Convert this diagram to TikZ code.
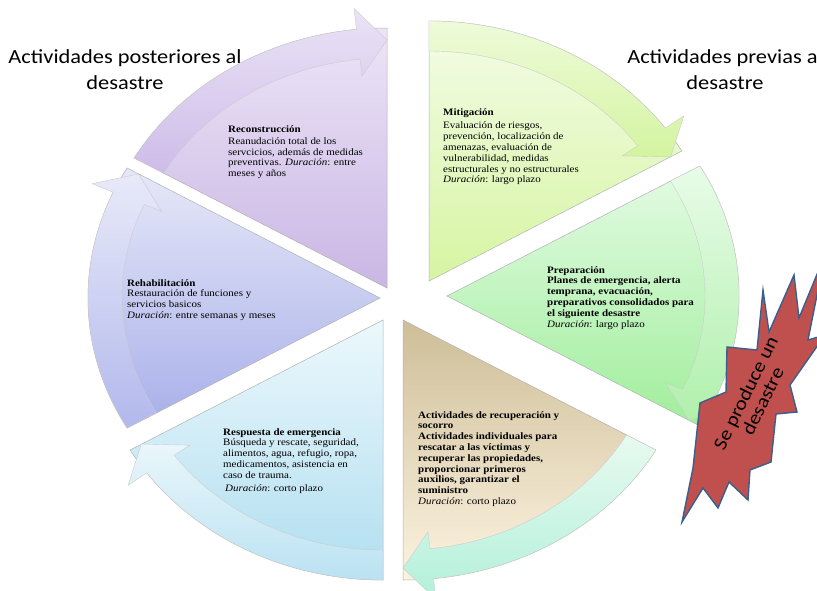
\documentclass[tikz,border=0pt]{standalone}
\usepackage{fontspec}
\setmainfont[FakeStretch=1.12]{Liberation Serif}
\newfontfamily\calib[FakeStretch=1.12]{Carlito}
\usetikzlibrary{calc}
\definecolor{mitT}{RGB}{244,252,232}
\definecolor{mitB}{RGB}{214,245,162}
\definecolor{mitbT}{RGB}{238,251,218}
\definecolor{mitbB}{RGB}{212,244,160}
\definecolor{preT}{RGB}{228,251,228}
\definecolor{preB}{RGB}{160,238,156}
\definecolor{prebT}{RGB}{232,252,232}
\definecolor{prebB}{RGB}{176,240,172}
\definecolor{recT}{RGB}{206,190,152}
\definecolor{recB}{RGB}{252,243,224}
\definecolor{recbT}{RGB}{232,250,240}
\definecolor{recbB}{RGB}{178,240,218}
\definecolor{resT}{RGB}{236,248,252}
\definecolor{resB}{RGB}{176,222,240}
\definecolor{resbT}{RGB}{234,246,251}
\definecolor{resbB}{RGB}{186,226,242}
\definecolor{rehT}{RGB}{230,232,248}
\definecolor{rehB}{RGB}{168,175,233}
\definecolor{rehbT}{RGB}{232,234,249}
\definecolor{rehbB}{RGB}{178,184,236}
\definecolor{conT}{RGB}{236,229,247}
\definecolor{conB}{RGB}{202,182,228}
\definecolor{conbT}{RGB}{234,227,246}
\definecolor{conbB}{RGB}{206,188,232}
\definecolor{burstfill}{RGB}{192,80,77}
\definecolor{burstline}{RGB}{58,95,143}
\tikzset{
  wedgeline/.style={draw=black!30, line width=0.5pt},
  bandline/.style={draw=black!20, line width=0.4pt},
  bodytext/.style={anchor=north west, align=left, inner sep=0pt, font=\fontsize{9.8}{10.8}\selectfont},
  titletext/.style={align=center, inner sep=0pt, font=\calib\fontsize{20}{26}\selectfont},
}
\newcommand{\wedgeseg}[5]{%
  \path[wedgeline, top color=#4, bottom color=#5] (#1) -- ++(#2:292pt and 260pt)
    arc[start angle=#2, end angle=#3, x radius=292pt, y radius=260pt] -- cycle;}
\newcommand{\bandseg}[5]{%
  \pgfmathsetmacro\ab{#3+6}
  \path[bandline, top color=#4, bottom color=#5]
    ($(#1)+(#2:292pt and 260pt)$)
    arc[start angle=#2, end angle=\ab, x radius=292pt, y radius=260pt]
    -- ($(#1)+(\ab:315pt and 281pt)$)
    -- ($(#1)+(#3:279pt and 248pt)$)
    -- ($(#1)+(\ab:239pt and 213pt)$)
    -- ($(#1)+(\ab:258pt and 230pt)$)
    arc[start angle=\ab, end angle=#2, x radius=258pt, y radius=230pt] -- cycle;}
\begin{document}
\begin{tikzpicture}[x=1pt,y=1pt]
\useasboundingbox (0,0) rectangle (817,-591);
\clip (0,0) rectangle (817,-591);
\fill[white] (0,0) rectangle (817,-591);
% apexes
\coordinate (pMit) at (429,-281);
\coordinate (pPre) at (447,-296);
\coordinate (pRec) at (403,-320);
\coordinate (pRes) at (383,-320);
\coordinate (pReh) at (380,-298);
\coordinate (pCon) at (387,-288);
% wedges
\wedgeseg{pMit}{90}{30}{mitT}{mitB}
\wedgeseg{pPre}{30}{-30}{preT}{preB}
\wedgeseg{pRec}{-30}{-90}{recT}{recB}
\wedgeseg{pRes}{-90}{-150}{resT}{resB}
\wedgeseg{pReh}{210}{150}{rehT}{rehB}
\wedgeseg{pCon}{150}{90}{conT}{conB}
% arrow bands
\bandseg{pMit}{90}{30}{mitbT}{mitbB}
\bandseg{pPre}{30}{-30}{prebT}{prebB}
\bandseg{pRec}{-30}{-90}{recbT}{recbB}
\bandseg{pRes}{-90}{-150}{resbT}{resbB}
\bandseg{pReh}{210}{150}{rehbT}{rehbB}
\bandseg{pCon}{150}{90}{conbT}{conbB}
% texts
\node[bodytext] (tCon) at (228,-125) {\textbf{Reconstrucción}\\[1.5pt]
Reanudación total de los\\
servcicios, además de medidas\\
preventivas. \textit{Duración}: entre\\
meses y años};
\node[bodytext] (tMit) at (443,-108) {\textbf{Mitigación}\\[3pt]
Evaluación de riesgos,\\
prevención, localización de\\
amenazas, evaluación de\\
vulnerabilidad, medidas\\
estructurales y no estructurales\\
\textit{Duración}: largo plazo};
\node[bodytext] (tPre) at (547,-266) {\textbf{Preparación}\\
\textbf{Planes de emergencia, alerta}\\
\textbf{temprana, evacuación,}\\
\textbf{preparativos consolidados para}\\
\textbf{el siguiente desastre}\\
\textit{Duración}: largo plazo};
\node[bodytext] (tRec) at (418,-411) {\textbf{Actividades de recuperación y}\\
\textbf{socorro}\\
\textbf{Actividades individuales para}\\
\textbf{rescatar a las víctimas y}\\
\textbf{recuperar las propiedades,}\\
\textbf{proporcionar primeros}\\
\textbf{auxilios, garantizar el}\\
\textbf{suministro}\\
\textit{Duración}: corto plazo};
\node[bodytext] (tRes) at (223,-428) {\textbf{Respuesta de emergencia}\\
Búsqueda y rescate, seguridad,\\
alimentos, agua, refugio, ropa,\\
medicamentos, asistencia en\\
caso de trauma.\\[2pt]
\hspace{2pt}\textit{Duración}: corto plazo};
\node[bodytext] (tReh) at (127,-279) {\textbf{Rehabilitación}\\
Restauración de funciones y\\
servicios basicos\\
\textit{Duración}: entre semanas y meses};
% side titles
\node[titletext] (post) at (125,-70) {Actividades posteriores al\\desastre};
\node[titletext] (prev) at (725,-70) {Actividades previas al\\desastre};
% starburst
\path[fill=burstfill, draw=burstline, line width=1.4pt, line join=miter]
  (763,-290) -- (769,-332) -- (794,-275) -- (799,-318) -- (825,-255) -- (808,-340)
  -- (825,-335) -- (790,-385) -- (797,-412) -- (776,-414) -- (771,-462) -- (750,-470)
  -- (748,-500) -- (729,-482) -- (718,-508) -- (703,-488) -- (682,-522) -- (693,-468)
  -- (700,-403) -- (726,-392) -- (727,-347) -- (757,-350) -- cycle;
\node[align=center, inner sep=0pt, rotate=64, font=\calib\fontsize{19}{19}\selectfont] (burst) at (754,-397) {Se produce un\\desastre};
\end{tikzpicture}
\end{document}
